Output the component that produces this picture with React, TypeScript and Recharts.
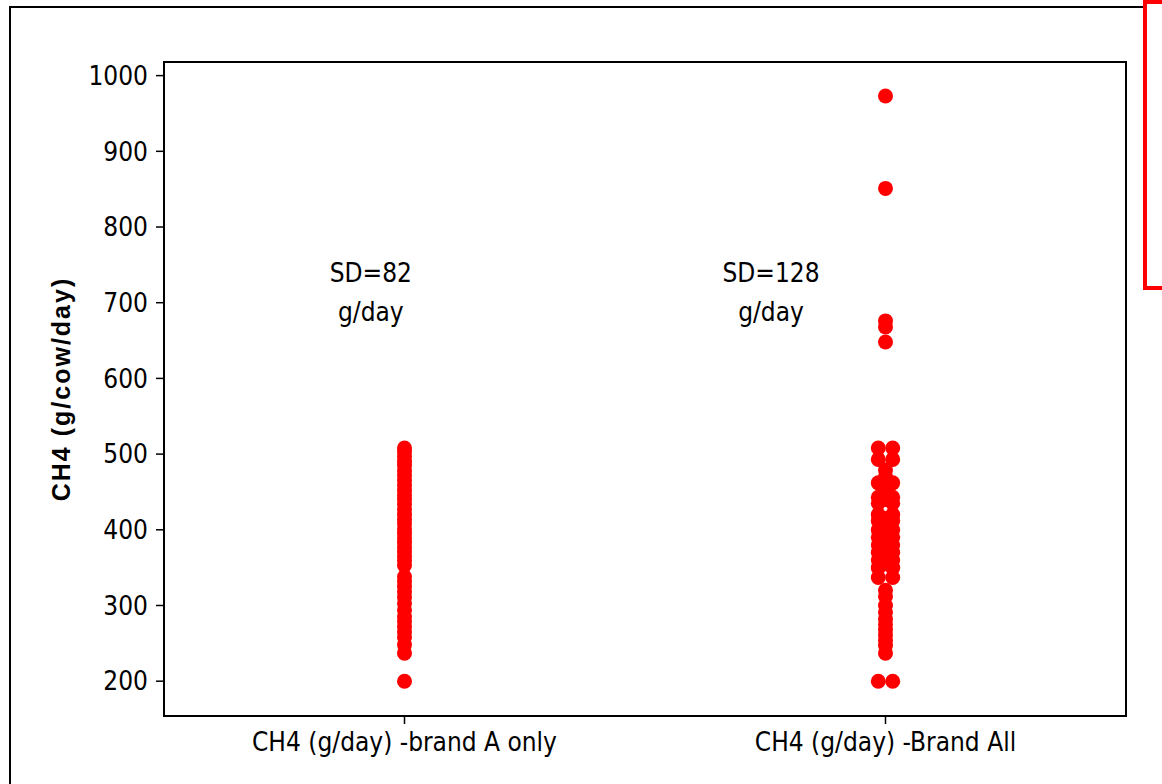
import React from 'react';
import { ScatterChart, Scatter, XAxis, YAxis, ReferenceArea, ReferenceDot } from 'recharts';

// category names on the x axis
const categories = ['CH4 (g/day) -brand A only', 'CH4 (g/day) -Brand All'];
const yTicks = [200, 300, 400, 500, 600, 700, 800, 900, 1000];

// CH4 g/cow/day, brand A only (single column)
const brandA = [
  508, 503, 497, 490, 485, 478, 472, 465, 459, 452, 446, 440, 434, 427, 420, 414,
  408, 401, 395, 389, 383, 377, 371, 365, 359, 353, 338, 332, 325, 318, 311, 303,
  294, 285, 279, 272, 265, 258, 248, 237, 200,
];

// brand All: points on the centre line
const brandAllMid = [
  973, 851, 676, 668, 648, 479, 470, 455, 440, 415, 405, 392, 385, 372, 360, 355,
  320, 312, 300, 291, 282, 275, 268, 261, 254, 247, 237,
];
// brand All: overlapping points pushed left / right
const brandAllLeft = [508, 493, 462, 443, 435, 420, 412, 400, 390, 380, 370, 360, 350, 337, 200];
const brandAllRight = [508, 493, 462, 443, 435, 420, 412, 400, 390, 380, 370, 360, 350, 337, 200];

// SD annotations
const sdLabels = [
  { x: 0.93, lines: ['SD=82', 'g/day'] },
  { x: 1.762, lines: ['SD=128', 'g/day'] },
];

const FONT = "'DejaVu Sans Condensed', 'DejaVu Sans', sans-serif";
const JIT = 0.015;

const dot = (props: any) => <circle cx={props.cx} cy={props.cy} r={7.5} fill="#ff0000" />;

const sdText = (lines: string[]) => (props: any) => (
  <text x={props.cx} textAnchor="middle" fontFamily={FONT} fontStretch="condensed" fontSize={26} fill="#000">
    <tspan x={props.cx} y={props.cy}>{lines[0]}</tspan>
    <tspan x={props.cx} y={props.cy + 39}>{lines[1]}</tspan>
  </text>
);

const yTitle = (p: any) => {
  const vb = p.viewBox || {};
  const cx = 61;
  const cy = (vb.y ?? 62) + (vb.height ?? 654) / 2;
  return (
    <text
      x={cx}
      y={cy}
      transform={`rotate(-90 ${cx} ${cy})`}
      textAnchor="middle"
      dominantBaseline="central"
      fontFamily="'Liberation Sans', Arial, sans-serif"
      fontWeight="bold"
      fontSize={25}
      letterSpacing={2}
      fill="#000"
    >
      CH4 (g/cow/day)
    </text>
  );
};

export default function App() {
  const aData = brandA.map((v) => ({ x: 1, y: v }));
  const midData = brandAllMid.map((v) => ({ x: 2, y: v }));
  const leftData = brandAllLeft.map((v) => ({ x: 2 - JIT, y: v }));
  const rightData = brandAllRight.map((v) => ({ x: 2 + JIT, y: v }));

  return (
    <div style={{ position: 'absolute', left: 0, top: 0, width: 1162, height: 784, overflow: 'hidden', background: '#fff' }}>
      <div style={{ position: 'absolute', left: 9, top: 6, width: 1300, height: 900, border: '2px solid #000' }} />
      <div
        style={{
          position: 'absolute', left: 1143, top: 0, width: 60, height: 282,
          border: '4px solid #ff0000', background: '#fff',
        }}
      />
      <div style={{ position: 'absolute', left: 0, top: 0 }}>
        <ScatterChart width={1162} height={784} margin={{ top: 62, right: 36, bottom: 38, left: 64 }}>
          <XAxis
            type="number"
            dataKey="x"
            domain={[0.5, 2.5]}
            ticks={[1, 2]}
            height={30}
            tickFormatter={(v: number) => categories[v - 1]}
            tickSize={8}
            tickMargin={9}
            axisLine={{ stroke: '#000', strokeWidth: 2 }}
            tickLine={{ stroke: '#000', strokeWidth: 1.5 }}
            tick={{ fill: '#000', fontSize: 26, fontFamily: FONT, fontStretch: 'condensed' }}
            allowDataOverflow
          />
          <YAxis
            type="number"
            dataKey="y"
            domain={[154, 1018]}
            ticks={yTicks}
            width={100}
            tickSize={8}
            tickMargin={8}
            axisLine={{ stroke: '#000', strokeWidth: 2 }}
            tickLine={{ stroke: '#000', strokeWidth: 1.5 }}
            tick={{ fill: '#000', fontSize: 26, fontFamily: FONT, fontStretch: 'condensed' }}
            allowDataOverflow
            label={{ content: yTitle }}
          />
          <ReferenceArea
            x1={0.5}
            x2={2.5}
            y1={154}
            y2={1018}
            fill="none"
            stroke="#000"
            strokeWidth={2}
            ifOverflow="visible"
          />
          {sdLabels.map((s) => (
            <ReferenceDot key={s.x} x={s.x} y={727} r={0} ifOverflow="visible" shape={sdText(s.lines)} />
          ))}
          <Scatter data={aData} fill="#ff0000" shape={dot} isAnimationActive={false} />
          <Scatter data={leftData} fill="#ff0000" shape={dot} isAnimationActive={false} />
          <Scatter data={rightData} fill="#ff0000" shape={dot} isAnimationActive={false} />
          <Scatter data={midData} fill="#ff0000" shape={dot} isAnimationActive={false} />
        </ScatterChart>
      </div>
    </div>
  );
}
